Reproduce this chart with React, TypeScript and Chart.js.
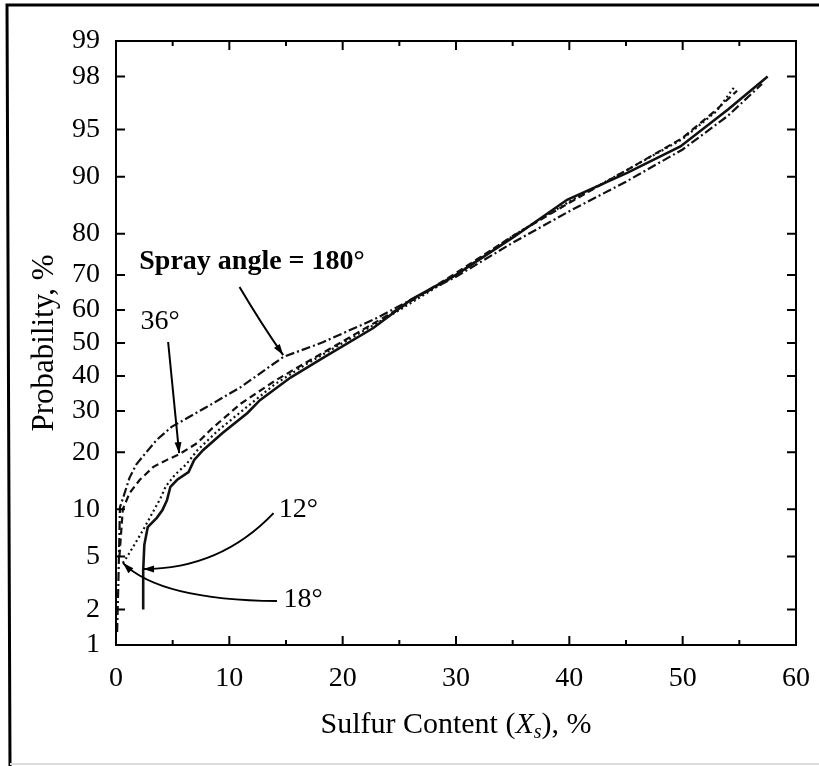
import { useEffect, useRef } from 'react';
import { Chart, Scale, registerables } from 'chart.js';

Chart.register(...registerables);

// ---------------- data ----------------
const xTickValues = [0, 10, 20, 30, 40, 50, 60];
const probTicks = [1, 2, 5, 10, 20, 30, 40, 50, 60, 70, 80, 90, 95, 98, 99];

const series180X = [0.1, 0.2, 0.3, 0.35, 0.6, 1.2, 1.8, 2.5, 3.6, 4.9, 8.0, 11.0, 14.75, 18.3, 23.0, 26.0, 30.0, 35.0, 40.0, 45.0, 50.0, 54.0, 57.0];
const series180Y = [1.3, 3.0, 7.0, 10.3, 11.5, 15.0, 17.5, 19.5, 22.8, 25.9, 31.1, 36.7, 45.7, 50.3, 57.6, 63.0, 69.5, 78.0, 84.5, 89.3, 93.2, 96.0, 97.7];

const series36X = [0.3, 0.6, 1.2, 2.1, 3.3, 4.5, 5.6, 7.2, 8.5, 11.0, 14.0, 16.5, 20.0, 25.0, 30.0, 35.0, 40.0, 45.0, 50.0, 53.0, 54.8];
const series36Y = [5.0, 10.0, 12.4, 14.6, 17.0, 18.4, 19.6, 22.1, 25.6, 32.0, 38.5, 43.5, 50.5, 60.5, 70.5, 79.5, 86.0, 90.8, 94.3, 96.4, 97.4];

const series18X = [0.6, 1.0, 1.5, 2.4, 3.2, 3.9, 4.4, 5.2, 6.2, 7.2, 9.0, 11.5, 14.0, 17.0, 20.0, 25.0, 30.0, 35.0, 40.0, 45.0, 50.0, 53.0, 54.6];
const series18Y = [4.5, 5.0, 5.8, 7.5, 9.5, 11.5, 13.5, 15.5, 17.5, 20.5, 25.0, 31.0, 37.5, 44.0, 50.0, 60.0, 70.0, 79.5, 86.2, 90.8, 94.2, 96.3, 97.6];

const series12X = [2.4, 2.4, 2.5, 2.8, 3.6, 4.1, 4.5, 4.8, 5.4, 6.4, 6.9, 7.7, 9.4, 11.6, 12.7, 15.4, 18.3, 22.7, 26.0, 30.0, 35.1, 39.8, 45.1, 49.8, 54.0, 57.5];
const series12Y = [2.0, 4.0, 6.0, 7.8, 8.9, 9.9, 11.3, 13.4, 14.6, 16.0, 18.4, 20.5, 24.4, 29.5, 33.0, 39.5, 45.5, 54.6, 63.0, 70.0, 79.3, 86.5, 90.5, 93.5, 96.4, 98.0];

// annotations (data coordinates: x in %, y in probability %)
const annotationLabels = ['Spray angle = 180°', '36°', '12°', '18°'];
const annotationBold = [true, false, false, false];
const annotationX = [12.0, 3.9, 16.1, 16.5];
const annotationY = [73.4, 56.4, 9.9, 2.39];

const arrowFromX = [10.9, 4.6, 13.9, 14.2];
const arrowFromY = [66.7, 50.3, 9.5, 2.34];
const arrowCtrlX = [12.8, 5.1, 9.2, 3.9];
const arrowCtrlY = [56.0, 33.0, 4.08, 2.39];
const arrowToX = [14.75, 5.57, 2.39, 0.62];
const arrowToY = [46.3, 19.8, 4.08, 4.5];

// ---------------- probability scale ----------------
function probit(p: number): number {
  const a = [-3.969683028665376e1, 2.209460984245205e2, -2.759285104469687e2, 1.38357751867269e2, -3.066479806614716e1, 2.506628277459239];
  const b = [-5.447609879822406e1, 1.615858368580409e2, -1.556989798598866e2, 6.680131188771972e1, -1.328068155288572e1];
  const c = [-7.784894002430293e-3, -3.223964580411365e-1, -2.400758277161838, -2.549732539343734, 4.374664141464968, 2.938163982698783];
  const d = [7.784695709041462e-3, 3.224671290700398e-1, 2.445134137142996, 3.754408661907416];
  const pl = 0.02425;
  if (p < pl) {
    const q = Math.sqrt(-2 * Math.log(p));
    return (((((c[0] * q + c[1]) * q + c[2]) * q + c[3]) * q + c[4]) * q + c[5]) / ((((d[0] * q + d[1]) * q + d[2]) * q + d[3]) * q + 1);
  }
  if (p <= 1 - pl) {
    const q = p - 0.5;
    const r = q * q;
    return ((((((a[0] * r + a[1]) * r + a[2]) * r + a[3]) * r + a[4]) * r + a[5]) * q) / (((((b[0] * r + b[1]) * r + b[2]) * r + b[3]) * r + b[4]) * r + 1);
  }
  const q = Math.sqrt(-2 * Math.log(1 - p));
  return -(((((c[0] * q + c[1]) * q + c[2]) * q + c[3]) * q + c[4]) * q + c[5]) / ((((d[0] * q + d[1]) * q + d[2]) * q + d[3]) * q + 1);
}

function normCdf(z: number): number {
  const t = 1 / (1 + 0.2316419 * Math.abs(z));
  const dd = 0.3989423 * Math.exp((-z * z) / 2);
  const p = dd * t * (0.3193815 + t * (-0.3565638 + t * (1.781478 + t * (-1.821256 + t * 1.330274))));
  return z > 0 ? 1 - p : p;
}

class ProbitScale extends Scale {
  static id = 'probit';
  static defaults = {};
  _zMin = -2.326;
  _zMax = 2.326;
  determineDataLimits() {
    const o: any = this.options;
    this.min = o.min ?? 1;
    this.max = o.max ?? 99;
  }
  buildTicks() {
    return probTicks.map((v) => ({ value: v }));
  }
  getLabelForValue(v: number) {
    return String(v);
  }
  configure() {
    super.configure();
    this._zMin = probit(this.min / 100);
    this._zMax = probit(this.max / 100);
  }
  getPixelForValue(v: number) {
    if (v == null || isNaN(v)) return NaN;
    const p = Math.min(Math.max(v / 100, 1e-6), 1 - 1e-6);
    return this.getPixelForDecimal((probit(p) - this._zMin) / (this._zMax - this._zMin));
  }
  getValueForPixel(px: number) {
    const dec = this.getDecimalForPixel(px);
    return 100 * normCdf(this._zMin + dec * (this._zMax - this._zMin));
  }
}
Chart.register(ProbitScale as any);

// ---------------- helpers ----------------
const SERIF = "'Liberation Serif', 'Times New Roman', serif";

function toPoints(xs: number[], ys: number[]) {
  return xs.map((x, i) => ({ x, y: ys[i] }));
}

const decorPlugin = {
  id: 'decor',
  beforeDraw(chart: any) {
    const ctx = chart.ctx;
    ctx.save();
    ctx.fillStyle = '#fff';
    ctx.fillRect(0, 0, chart.width, chart.height);
    ctx.restore();
  },
  afterDraw(chart: any) {
    const ctx: CanvasRenderingContext2D = chart.ctx;
    const xs = chart.scales.x;
    const ys = chart.scales.y;
    const { left, right, top, bottom } = chart.chartArea;
    ctx.save();

    // page frame (left & top black, bottom light grey)
    ctx.strokeStyle = '#000';
    ctx.lineWidth = 3;
    ctx.beginPath();
    ctx.moveTo(819, 5);
    ctx.lineTo(7, 5);
    ctx.lineTo(10, 766);
    ctx.stroke();
    ctx.strokeStyle = '#ddd';
    ctx.lineWidth = 2;
    ctx.beginPath();
    ctx.moveTo(10, 764);
    ctx.lineTo(819, 764);
    ctx.stroke();

    // plot box
    ctx.strokeStyle = '#000';
    ctx.lineWidth = 2;
    ctx.strokeRect(left, top, right - left, bottom - top);

    // inward ticks on x (top and bottom)
    ctx.lineWidth = 2;
    for (let v = 5; v < 60; v += 5) {
      const px = xs.getPixelForValue(v);
      const len = v % 10 === 0 ? 9 : 5;
      ctx.beginPath();
      ctx.moveTo(px, bottom);
      ctx.lineTo(px, bottom - len);
      ctx.moveTo(px, top);
      ctx.lineTo(px, top + len);
      ctx.stroke();
    }
    // inward ticks on y (left and right)
    probTicks.forEach((p) => {
      if (p === 1 || p === 99) return;
      const py = ys.getPixelForValue(p);
      ctx.beginPath();
      ctx.moveTo(left, py);
      ctx.lineTo(left + 9, py);
      ctx.moveTo(right, py);
      ctx.lineTo(right - 9, py);
      ctx.stroke();
    });

    // annotation texts
    ctx.fillStyle = '#000';
    ctx.textAlign = 'center';
    ctx.textBaseline = 'middle';
    annotationLabels.forEach((t, i) => {
      ctx.font = `${annotationBold[i] ? 'bold ' : ''}28px ${SERIF}`;
      ctx.fillText(t, xs.getPixelForValue(annotationX[i]), ys.getPixelForValue(annotationY[i]));
    });

    // annotation arrows
    ctx.lineWidth = 2;
    arrowFromX.forEach((_, i) => {
      const x0 = xs.getPixelForValue(arrowFromX[i]);
      const y0 = ys.getPixelForValue(arrowFromY[i]);
      const cx = xs.getPixelForValue(arrowCtrlX[i]);
      const cy = ys.getPixelForValue(arrowCtrlY[i]);
      const x1 = xs.getPixelForValue(arrowToX[i]);
      const y1 = ys.getPixelForValue(arrowToY[i]);
      ctx.beginPath();
      ctx.moveTo(x0, y0);
      ctx.quadraticCurveTo(cx, cy, x1, y1);
      ctx.stroke();
      const ang = Math.atan2(y1 - cy, x1 - cx);
      const L = 11;
      const W = 3.5;
      ctx.beginPath();
      ctx.moveTo(x1, y1);
      ctx.lineTo(x1 - L * Math.cos(ang) + W * Math.sin(ang), y1 - L * Math.sin(ang) - W * Math.cos(ang));
      ctx.lineTo(x1 - L * Math.cos(ang) - W * Math.sin(ang), y1 - L * Math.sin(ang) + W * Math.cos(ang));
      ctx.closePath();
      ctx.fill();
    });

    // x-axis title with italic X and subscript s
    const parts = [
      { t: 'Sulfur Content (', f: `30px ${SERIF}`, dy: 0 },
      { t: 'X', f: `italic 30px ${SERIF}`, dy: 0 },
      { t: 's', f: `italic 20px ${SERIF}`, dy: 8 },
      { t: '), %', f: `30px ${SERIF}`, dy: 0 },
    ];
    let total = 0;
    parts.forEach((p) => {
      ctx.font = p.f;
      total += ctx.measureText(p.t).width;
    });
    let cx = (left + right) / 2 - total / 2;
    const ty = bottom + 80;
    ctx.textAlign = 'left';
    parts.forEach((p) => {
      ctx.font = p.f;
      ctx.fillText(p.t, cx, ty + p.dy);
      cx += ctx.measureText(p.t).width;
    });
    ctx.restore();
  },
};

export default function App() {
  const ref = useRef<HTMLCanvasElement>(null);
  useEffect(() => {
    document.body.style.margin = '0';
    const lineBase = { borderColor: '#111', borderWidth: 2.2, pointRadius: 0, fill: false, tension: 0 };
    const chart = new Chart(ref.current as HTMLCanvasElement, {
      type: 'line',
      data: {
        datasets: [
          { ...lineBase, label: '180°', data: toPoints(series180X, series180Y), borderDash: [9, 3, 2, 3] },
          { ...lineBase, label: '36°', data: toPoints(series36X, series36Y), borderDash: [7, 4] },
          { ...lineBase, label: '18°', data: toPoints(series18X, series18Y), borderDash: [2, 3] },
          { ...lineBase, label: '12°', data: toPoints(series12X, series12Y), borderWidth: 2.6 },
        ] as any,
      },
      options: {
        animation: false,
        responsive: false,
        devicePixelRatio: 1,
        layout: { padding: { left: 0, top: 41, right: 23, bottom: 0 } },
        plugins: { legend: { display: false }, tooltip: { enabled: false } },
        scales: {
          x: {
            type: 'linear',
            min: 0,
            max: 60,
            afterBuildTicks: (s: any) => {
              s.ticks = xTickValues.map((v) => ({ value: v }));
            },
            afterFit: (s: any) => {
              s.height = 121;
            },
            grid: { display: false },
            border: { display: false },
            ticks: {
              color: '#000',
              padding: 9,
              maxRotation: 0,
              autoSkip: false,
              font: { family: SERIF, size: 28 },
              callback: (v: any) => String(v),
            },
          },
          y: {
            type: 'probit' as any,
            min: 1,
            max: 99,
            afterFit: (s: any) => {
              s.width = 116;
            },
            grid: { display: false },
            border: { display: false },
            ticks: {
              color: '#000',
              padding: 8,
              autoSkip: false,
              font: { family: SERIF, size: 28 },
              callback: (v: any) => String(v),
            },
            title: {
              display: true,
              text: 'Probability, %',
              color: '#000',
              font: { family: SERIF, size: 31 },
              padding: { top: 26, bottom: 0 },
            },
          } as any,
        },
      },
      plugins: [decorPlugin],
    } as any);
    return () => chart.destroy();
  }, []);
  return (
    <div style={{ width: 819, height: 766 }}>
      <canvas ref={ref} width={819} height={766} style={{ display: 'block', width: 819, height: 766 }} />
    </div>
  );
}
